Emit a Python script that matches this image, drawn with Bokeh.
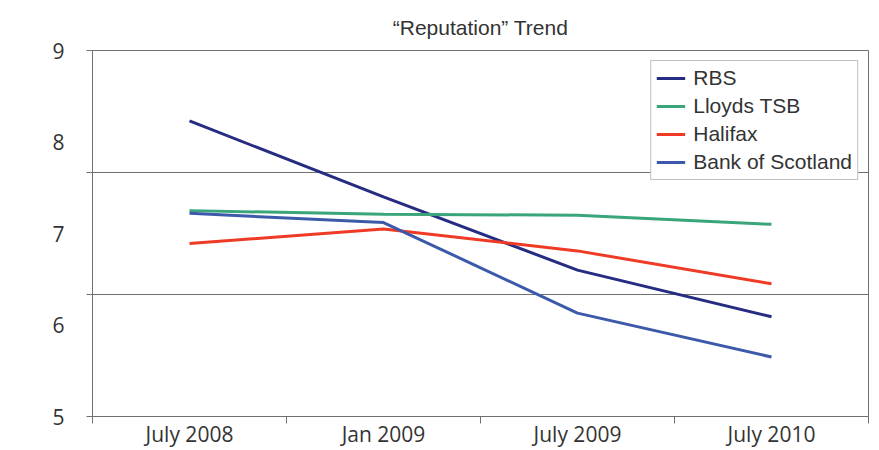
from bokeh.plotting import figure
from bokeh.models import FixedTicker, Legend, LegendItem, Range1d
from bokeh.embed import file_html
from bokeh.resources import INLINE

title_text = "\u201cReputation\u201d Trend"
periods = ["July 2008", "Jan 2009", "July 2009", "July 2010"]
series_names = ["RBS", "Lloyds TSB", "Halifax", "Bank of Scotland"]
rbs = [8.23, 7.40, 6.60, 6.09]
lloyds = [7.25, 7.21, 7.20, 7.10]
halifax = [6.89, 7.05, 6.81, 6.45]
bos = [7.22, 7.12, 6.13, 5.65]
y_ticks = [5, 6, 7, 8, 9]
y_min, y_max = 5, 9

colors = ["#262c82", "#3aa57a", "#ef3a25", "#3d59a9"]
series = [rbs, lloyds, halifax, bos]

xs = list(range(len(periods)))

p = figure(width=879, height=450, output_backend="svg", toolbar_location=None,
           x_range=Range1d(-0.5, len(periods) - 0.5), y_range=Range1d(y_min, y_max),
           min_border_left=92, min_border_right=11, min_border_top=50, min_border_bottom=33)
p.background_fill_color = "white"
p.border_fill_color = "white"
p.outline_line_color = "#707070"
p.outline_line_width = 1

p.title.text = title_text
p.title.align = "center"
p.title.text_font = "Liberation Sans"
p.title.text_font_size = "21px"
p.title.text_font_style = "normal"
p.title.text_color = "#333333"
p.title.standoff = 24

# y axis: labels at integers, tick marks/grid at thirds
third = (y_max - y_min) / 3
grid_vals = [y_min + third, y_min + 2 * third]
yax = p.yaxis[0]
yax.ticker = FixedTicker(ticks=y_ticks, minor_ticks=[y_min, y_min + third, y_min + 2 * third, y_max])
yax.major_tick_out = 0
yax.major_tick_in = 0
yax.minor_tick_out = 6
yax.minor_tick_in = 0
yax.minor_tick_line_color = "#707070"
yax.axis_line_color = "#707070"
yax.major_label_standoff = 22
yax.major_label_text_font = "Open Sans"
yax.major_label_text_font_size = "21px"
yax.major_label_text_color = "#333333"

p.ygrid.ticker = FixedTicker(ticks=grid_vals)
p.ygrid.grid_line_color = "#707070"
p.ygrid.grid_line_width = 1
p.xgrid.visible = False

xax = p.xaxis[0]
xax.ticker = FixedTicker(ticks=xs, minor_ticks=[i - 0.5 for i in range(len(periods) + 1)])
xax.major_label_overrides = {i: lab for i, lab in zip(xs, periods)}
xax.major_tick_out = 0
xax.major_tick_in = 0
xax.minor_tick_out = 7
xax.minor_tick_in = 0
xax.minor_tick_line_color = "#707070"
xax.axis_line_color = "#707070"
xax.major_label_standoff = -4
xax.major_label_text_font = "Open Sans"
xax.major_label_text_font_size = "21px"
xax.major_label_text_color = "#333333"

items = []
for name, vals, col in zip(series_names, series, colors):
    r = p.line(xs, vals, line_color=col, line_width=3)
    items.append(LegendItem(label=name, renderers=[r]))

legend = Legend(items=items, location="top_right", margin=10, padding=5, spacing=4,
                glyph_width=29, glyph_height=24, label_height=24, label_standoff=8,
                label_text_font="Liberation Sans", label_text_font_size="21px",
                label_text_color="#333333", border_line_color="#808080",
                border_line_width=1.3, background_fill_color="white", background_fill_alpha=1)
p.add_layout(legend)

open("out.html", "w").write(file_html(p, INLINE))
